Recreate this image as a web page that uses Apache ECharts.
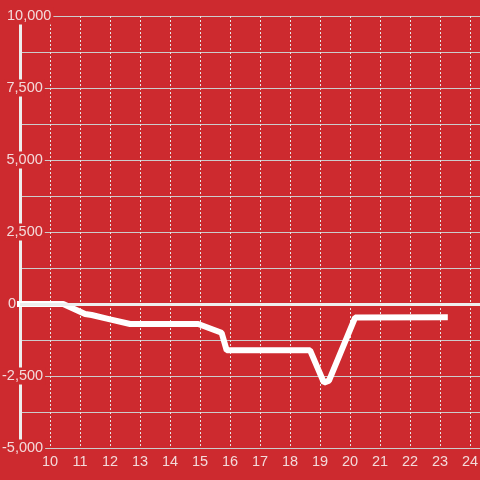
<!DOCTYPE html>
<html>
<head>
<meta charset="utf-8">
<script src="https://cdn.jsdelivr.net/npm/echarts@6/dist/echarts.min.js"></script>
<style>
  html, body { margin: 0; padding: 0; background: #cd2a2f; }
  #main { width: 480px; height: 480px; }
</style>
</head>
<body>
<div id="main"></div>
<script>
// line points (x = hour, y = value)
const xValues = [8.8, 10.44, 11.17, 11.39, 12.0, 12.67, 14.94, 15.72, 15.89, 18.67, 19.13, 19.3, 20.17, 23.26];
const yValues = [0, 0, -347, -382, -532, -694, -694, -997, -1608, -1608, -2730, -2660, -470, -460];

const bg = "#cd2a2f";
const textColor = "#f3dada";
const font = "Liberation Sans";
const fs = 14.5;

const chart = echarts.init(document.getElementById("main"));

// small left spacer so the labels sit like in the picture
function yLabel(v) {
  const s = v.toLocaleString("en-US");
  if (v < 0) return "{t|" + s + "}";
  if (v === 0) return "{s6| }{t|" + s + "}";
  if (v >= 10000) return "{s5| }{t|" + s + "}";
  return "{s4| }{t|" + s + "}";
}

const option = {
  backgroundColor: bg,
  animation: false,
  textStyle: { fontFamily: font },
  grid: { left: 20, right: 0, top: 16, bottom: 32, outerBoundsMode: "none" },
  xAxis: {
    type: "value",
    min: 9,
    max: 24.333,
    interval: 1,
    axisLine: { show: false },
    axisTick: { show: false },
    axisLabel: {
      color: textColor,
      fontSize: fs,
      margin: 6,
      showMinLabel: false,
      formatter: (v) => (Number.isInteger(v) ? String(v) : ""),
    },
    splitLine: {
      show: true,
      lineStyle: { color: "#e6e6e6", width: 1, type: [2, 2] },
    },
  },
  yAxis: {
    type: "value",
    min: -5000,
    max: 10000,
    interval: 2500,
    axisLine: { show: true, lineStyle: { color: "#eeeeee", width: 3 } },
    axisTick: { show: false },
    axisLabel: {
      color: textColor,
      fontSize: fs,
      align: "left",
      margin: 20,
      formatter: yLabel,
      rich: {
        t: { color: textColor, fontSize: fs, fontFamily: font, backgroundColor: bg, padding: [1, 2] },
        s4: { width: 4.5, fontSize: fs },
        s5: { width: 5, fontSize: fs },
        s6: { width: 6, fontSize: fs },
      },
    },
    splitLine: { show: true, lineStyle: { color: "#cccccc", width: 1 } },
    minorTick: { show: false, splitNumber: 2 },
    minorSplitLine: { show: true, lineStyle: { color: "#cccccc", width: 1 } },
  },
  series: [
    {
      type: "line",
      data: xValues.map((x, i) => [x, yValues[i]]),
      symbol: "none",
      lineStyle: { color: "#ffffff", width: 6 },
      markLine: {
        silent: true,
        symbol: "none",
        label: { show: false },
        lineStyle: { color: "#eeeeee", width: 3, type: "solid" },
        data: [{ yAxis: 0 }],
      },
    },
  ],
};

chart.setOption(option);
</script>
</body>
</html>
